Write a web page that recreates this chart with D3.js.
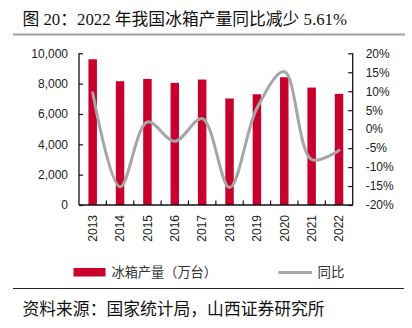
<!DOCTYPE html>
<html><head><meta charset="utf-8">
<script src="https://cdn.jsdelivr.net/npm/d3@7"></script>
<style>
html,body{margin:0;padding:0;background:#fff;}
svg{display:block;}
</style></head>
<body>
<svg id="c" width="412" height="328"></svg>
<script>
const years = ["2013","2014","2015","2016","2017","2018","2019","2020","2021","2022"];
const production = [9605, 8160, 8310, 8050, 8270, 7020, 7300, 8420, 7740, 7325];
const yoy = [9.6, -15.2, 1.9, -3.2, 2.8, -15.4, 5.5, 15.2, -8.0, -5.61];
const leftTicks = [0, 2000, 4000, 6000, 8000, 10000];
const rightTicks = [-20, -15, -10, -5, 0, 5, 10, 15, 20];
const titleText = "图 20：2022 年我国冰箱产量同比减少 5.61%";
const sourceText = "资料来源：国家统计局，山西证券研究所";
const legendBar = "冰箱产量（万台）";
const legendLine = "同比";

const svg = d3.select("#c");
const L = 79, R = 352.7, T = 53.3, B = 205;
const barColor = "#C8002D", lineColor = "#A6A6A6";
const numFont = "'Liberation Sans', Arial, sans-serif";
const cjkFont = "'Liberation Serif', 'Noto Sans CJK SC', serif";

// title
svg.append("text").attr("x", 22.5).attr("y", 25).attr("font-family", cjkFont)
  .attr("font-size", 16.8).attr("fill", "#111").text(titleText);
svg.append("line").attr("x1", 13).attr("x2", 405).attr("y1", 34.5).attr("y2", 34.5)
  .attr("stroke", "#a0a0a0").attr("stroke-width", 2);

const x = d3.scaleBand().domain(years).range([L, R]).paddingInner(0.69).paddingOuter(0.345);
const yL = d3.scaleLinear().domain([0, 10000]).range([B, T]);
const yR = d3.scaleLinear().domain([-20, 20]).range([B, T]);

// bars
svg.append("g").selectAll("rect").data(years).join("rect")
  .attr("x", d => x(d)).attr("width", x.bandwidth())
  .attr("y", (d, i) => yL(production[i])).attr("height", (d, i) => B - yL(production[i]))
  .attr("fill", barColor);

// line
const line = d3.line().x((d, i) => x(years[i]) + x.bandwidth() / 2).y(d => yR(d))
  .curve(d3.curveCatmullRom.alpha(0.5));
svg.append("path").datum(yoy).attr("d", line).attr("fill", "none")
  .attr("stroke", lineColor).attr("stroke-width", 3).attr("stroke-linecap", "round");

// left axis
const axL = d3.axisLeft(yL).tickValues(leftTicks).tickSize(-4).tickPadding(11)
  .tickFormat(d3.format(","));
const gL = svg.append("g").attr("transform", `translate(${L},0)`).call(axL);
gL.select(".domain").attr("d", `M-0,${T}H0V${B}`).attr("stroke", "#111").attr("stroke-width", 1.3);
gL.selectAll(".tick line").attr("stroke", "#111").attr("stroke-width", 1.2);
gL.selectAll("text").attr("font-family", numFont).attr("font-size", 12).attr("fill", "#222");

// right axis
const axR = d3.axisRight(yR).tickValues(rightTicks).tickSize(-4.5).tickPadding(13)
  .tickFormat(d => d + "%");
const gR = svg.append("g").attr("transform", `translate(${R},0)`).call(axR);
gR.select(".domain").attr("d", `M0,${T}V${B}`).attr("stroke", "#111").attr("stroke-width", 1.3);
gR.selectAll(".tick line").attr("stroke", "#111").attr("stroke-width", 1.2);
gR.selectAll("text").attr("font-family", numFont).attr("font-size", 12).attr("fill", "#222");

// bottom axis
const gB = svg.append("g");
gB.append("line").attr("x1", L).attr("x2", R).attr("y1", B).attr("y2", B)
  .attr("stroke", "#111").attr("stroke-width", 1.3);
const step = x.step();
gB.selectAll(".bt").data(years.slice(1)).join("line").attr("class", "bt")
  .attr("x1", d => x(d) - step * 0.345).attr("x2", d => x(d) - step * 0.345)
  .attr("y1", B).attr("y2", B - 4.5).attr("stroke", "#111").attr("stroke-width", 1.2);
gB.selectAll(".yl").data(years).join("text").attr("class", "yl")
  .attr("transform", d => `translate(${x(d) + x.bandwidth() / 2 + 4.3},215) rotate(-90)`)
  .attr("text-anchor", "end").attr("font-family", numFont).attr("font-size", 12)
  .attr("fill", "#222").text(d => d);

// legend
svg.append("rect").attr("x", 73.5).attr("y", 268).attr("width", 32).attr("height", 8.5).attr("fill", barColor);
svg.append("text").attr("x", 111.5).attr("y", 277).attr("font-family", "'Noto Sans CJK SC', sans-serif")
  .attr("font-size", 13.2).attr("fill", "#333").text(legendBar);
svg.append("line").attr("x1", 278.5).attr("x2", 312).attr("y1", 272.5).attr("y2", 272.5)
  .attr("stroke", lineColor).attr("stroke-width", 3);
svg.append("text").attr("x", 317.5).attr("y", 277).attr("font-family", "'Noto Sans CJK SC', sans-serif")
  .attr("font-size", 13.5).attr("fill", "#333").text(legendLine);

// footer
svg.append("line").attr("x1", 13).attr("x2", 404).attr("y1", 288.5).attr("y2", 288.5)
  .attr("stroke", "#222").attr("stroke-width", 1.2);
svg.append("text").attr("x", 22.5).attr("y", 315).attr("font-family", "'Noto Sans CJK SC', sans-serif")
  .attr("font-size", 16.8).attr("fill", "#111").text(sourceText);
</script>
</body></html>
